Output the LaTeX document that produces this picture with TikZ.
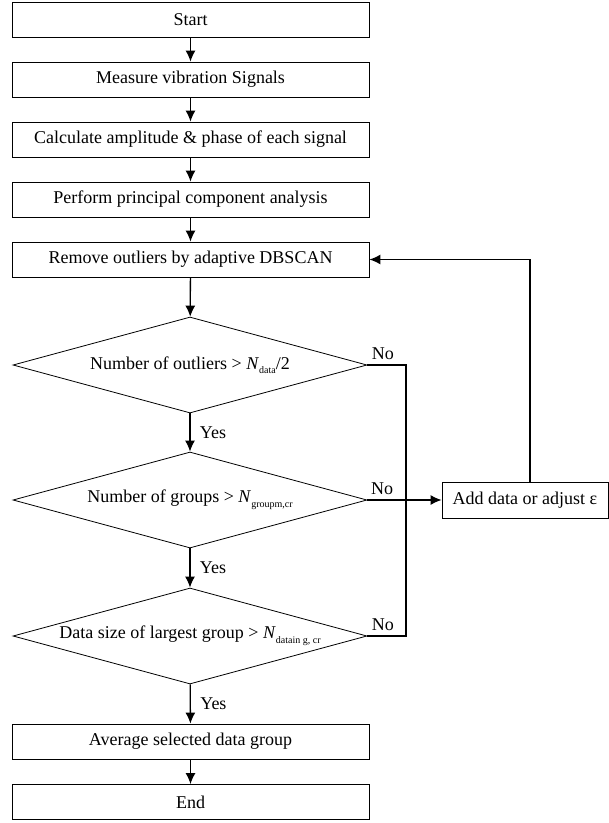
\documentclass[tikz,border=0pt]{standalone}
\usepackage{fontspec}
\setmainfont{Liberation Serif}
\usetikzlibrary{arrows.meta,shapes.geometric}
\newcommand{\subtxt}[1]{\raisebox{-0.55ex}{\fontsize{10}{10}\selectfont #1}}

\begin{document}
\begin{tikzpicture}[x=1pt, y=-1pt,
  font=\fontsize{18}{21}\selectfont,
  box/.style={draw, line width=0.8pt, minimum width=357pt, minimum height=35pt, inner sep=0pt},
  decision/.style={draw, diamond, aspect=3.69, line width=0.8pt, minimum width=354pt, minimum height=96pt, inner sep=0pt},
  arr/.style={line width=1.3pt, -{Latex[length=11pt,width=10pt]}},
  line/.style={line width=1.3pt}]
\useasboundingbox (0,0) rectangle (609,823);
%\draw[very thin,color=gray] (0,0) grid[step=50] (609,823);
\node[box] (start)   at (190.5,19.5)  {Start};
\node[box] (measure) at (190.5,79.5)  {Measure vibration Signals};
\node[box] (calc)    at (190.5,139.5) {Calculate amplitude \& phase of each signal};
\node[box] (pca)     at (190.5,199.5) {Perform principal component analysis};
\node[box] (remove)  at (190.5,259.5) {Remove outliers by adaptive DBSCAN};
\node[decision] (outl) at (190,365) {Number of outliers > \textit{N}\subtxt{data}/2};
\node[decision] (grp)  at (190,500) {Number of groups > \textit{N}\subtxt{groupm,cr}};
\node[decision] (size) at (190,636) {Data size of largest group > \textit{N}\subtxt{datain g, cr}};
\node[box] (avg)     at (190.5,741.5) {Average selected data group};
\node[box] (end)     at (190.5,802)   {End};
\node[box, minimum width=166pt, minimum height=36pt] (add) at (525,500) {Add data or adjust ε};
\coordinate (bustop) at (406,365);
\coordinate (busbot) at (406,636);

\draw[arr] (start) -- (measure);
\draw[arr] (measure) -- (calc);
\draw[arr] (calc) -- (pca);
\draw[arr] (pca) -- (remove);
\draw[arr] (remove) -- (outl);
\draw[arr] (outl) -- node[right, xshift=6pt] {Yes} (grp);
\draw[arr] (grp) -- node[right, xshift=6pt] {Yes} (size);
\draw[arr] (size) -- node[right, xshift=6pt] {Yes} (avg);
\draw[arr] (avg) -- (end);
\draw[line] (outl.east) -- node[above, pos=0.4, yshift=1pt] {No} (bustop) -- (busbot) -- node[above, pos=0.6, yshift=1pt] {No} (size.east);
\draw[arr] (grp.east) -- node[above, pos=0.2, yshift=1pt] {No} (add.west);
\draw[arr] ([xshift=5pt]add.north) |- (remove.east);
\end{tikzpicture}
\end{document}
